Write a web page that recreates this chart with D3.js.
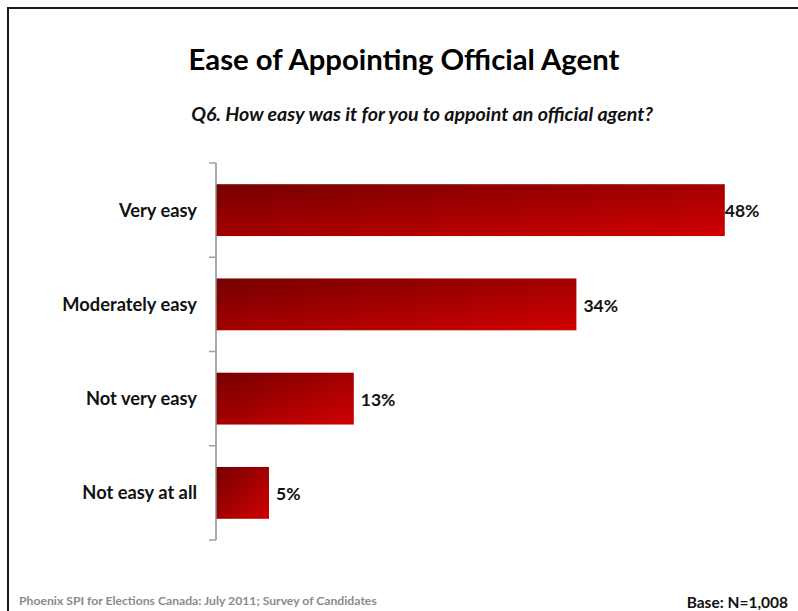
<!DOCTYPE html>
<html>
<head>
<meta charset="utf-8">
<script src="https://cdn.jsdelivr.net/npm/d3@7"></script>
<style>
  html, body { margin: 0; padding: 0; background: #fff; }
  svg { display: block; }
  text { font-family: Lato, "Open Sans", sans-serif; }
</style>
</head>
<body>
<svg id="chart" width="798" height="611"></svg>
<script>
// Survey responses: ease of appointing an official agent
const categories = ["Very easy", "Moderately easy", "Not very easy", "Not easy at all"];
const percentages = [48, 34, 13, 5];
const title = "Ease of Appointing Official Agent";
const question = "Q6. How easy was it for you to appoint an official agent?";
const sourceNote = "Phoenix SPI for Elections Canada: July 2011; Survey of Candidates";
const baseNote = "Base: N=1,008";

const svg = d3.select("#chart");
const W = 798, H = 611;

// slide frame
svg.append("rect")
  .attr("x", 8).attr("y", 8)
  .attr("width", W + 20).attr("height", H + 20)
  .attr("fill", "none").attr("stroke", "#1a1a1a").attr("stroke-width", 2);

const axisX = 216, plotTop = 163, plotBottom = 540;

const y = d3.scaleBand()
  .domain(categories)
  .range([plotTop, plotBottom])
  .paddingInner(0.45)
  .paddingOuter(0.225);

const x = d3.scaleLinear().domain([0, 50]).range([axisX, axisX + 530]);

// diagonal dark-to-bright red fill
const defs = svg.append("defs");
const grad = defs.append("linearGradient")
  .attr("id", "barFill")
  .attr("x1", 0).attr("y1", 0).attr("x2", 1).attr("y2", 1);
grad.append("stop").attr("offset", "0%").attr("stop-color", "#760000");
grad.append("stop").attr("offset", "100%").attr("stop-color", "#d00000");

const rows = categories.map((c, i) => ({ cat: c, val: percentages[i] }));

svg.append("g").selectAll("rect")
  .data(rows).join("rect")
  .attr("x", x(0))
  .attr("y", d => y(d.cat))
  .attr("width", d => x(d.val) - x(0))
  .attr("height", y.bandwidth())
  .attr("fill", "url(#barFill)");

// category axis: line plus ticks at band boundaries
const boundaries = d3.range(categories.length + 1).map(i => plotTop + i * y.step());
const axisG = svg.append("g");
axisG.append("line")
  .attr("x1", axisX).attr("x2", axisX)
  .attr("y1", plotTop).attr("y2", plotBottom)
  .attr("stroke", "#8c8c8c").attr("stroke-width", 1.5);
axisG.selectAll("line.tick")
  .data(boundaries).join("line")
  .attr("class", "tick")
  .attr("x1", axisX - 7).attr("x2", axisX)
  .attr("y1", d => d).attr("y2", d => d)
  .attr("stroke", "#a0a0a0").attr("stroke-width", 1.5);

// category labels
svg.append("g").selectAll("text")
  .data(rows).join("text")
  .attr("x", 197)
  .attr("y", d => y(d.cat) + y.bandwidth() / 2)
  .attr("dy", "0.35em")
  .attr("text-anchor", "end")
  .attr("font-size", 18.3).attr("font-weight", 700)
  .attr("fill", "#111")
  .text(d => d.cat);

// value labels
svg.append("g").selectAll("text")
  .data(rows).join("text")
  .attr("x", d => x(d.val) + (d.val > 40 ? 0 : 7))
  .attr("y", d => y(d.cat) + y.bandwidth() / 2 + 1)
  .attr("dy", "0.35em")
  .attr("font-size", 17.5).attr("font-weight", 700)
  .attr("fill", "#111")
  .text(d => d.val + "%");

// titles
svg.append("text")
  .attr("x", 404).attr("y", 70)
  .attr("text-anchor", "middle")
  .attr("font-size", 29.3).attr("font-weight", 700)
  .attr("fill", "#000")
  .text(title);

svg.append("text")
  .attr("x", 422).attr("y", 121)
  .attr("text-anchor", "middle")
  .attr("font-size", 19.6).attr("font-weight", 700).attr("font-style", "italic")
  .attr("fill", "#111")
  .text(question);

// footer notes
svg.append("text")
  .attr("x", 19).attr("y", 605)
  .attr("font-size", 12.2).attr("font-weight", 700)
  .attr("fill", "#8a8a8a")
  .text(sourceNote);

svg.append("text")
  .attr("x", 788).attr("y", 608)
  .attr("text-anchor", "end")
  .attr("font-size", 15.5).attr("font-weight", 700)
  .attr("fill", "#111")
  .text(baseNote);
</script>
</body>
</html>
